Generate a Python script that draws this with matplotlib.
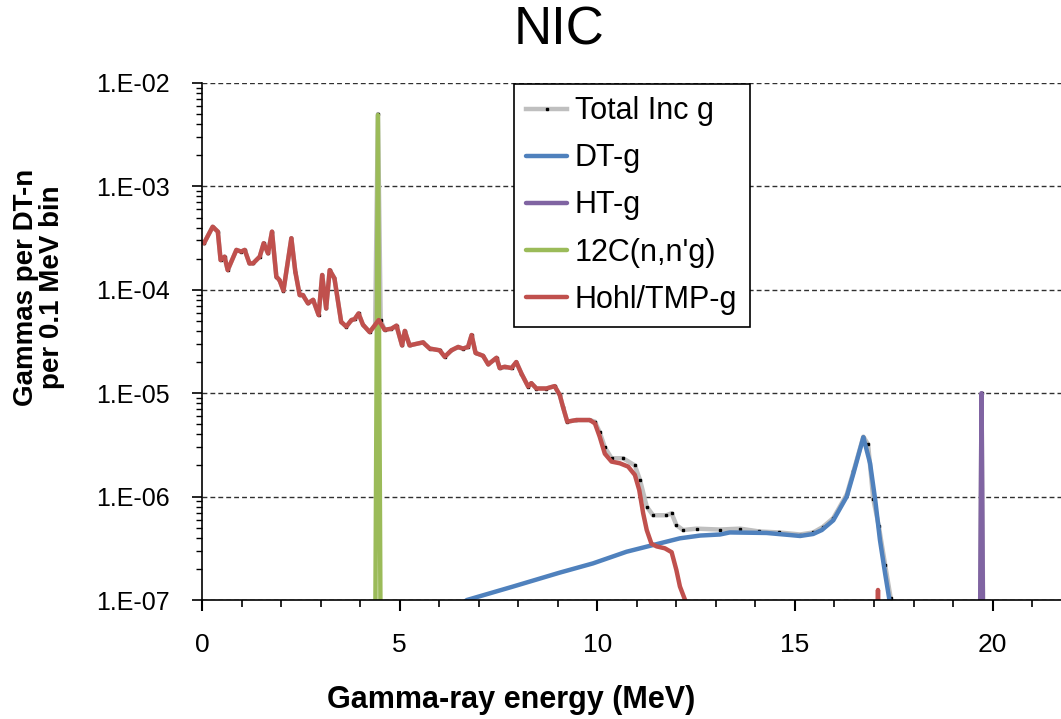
import numpy as np
import matplotlib
matplotlib.use("Agg")
from matplotlib import pyplot as plt
from matplotlib.ticker import LogLocator, MultipleLocator, FuncFormatter

plt.rcParams['font.family'] = ['Liberation Sans', 'DejaVu Sans']

# floor value = "nothing in this bin" (falls below the 1E-07 axis)
ZERO = 1e-12

# Hohl/TMP-g
hohl_e = [0.05, 0.27, 0.40, 0.47, 0.57, 0.65, 0.87, 0.99, 1.08, 1.20, 1.29, 1.46,
          1.56, 1.67, 1.77, 1.88, 1.96, 2.06, 2.26, 2.36, 2.47, 2.55, 2.68, 2.81,
          2.95, 3.04, 3.14, 3.23, 3.35, 3.52, 3.65, 3.78, 3.86, 3.96, 4.07, 4.24,
          4.47, 4.62, 4.79, 4.92, 5.06, 5.13, 5.25, 5.59, 5.76, 6.01, 6.14, 6.31,
          6.48, 6.60, 6.73, 6.82, 6.92, 7.11, 7.24, 7.45, 7.53, 7.66, 7.83, 7.95,
          8.08, 8.25, 8.33, 8.46, 8.71, 8.92, 9.05, 9.13, 9.24, 9.47, 9.81, 9.94,
          10.06, 10.19, 10.36, 10.57, 10.78, 10.95, 11.06, 11.16, 11.25, 11.37,
          11.50, 11.71, 11.88, 12.00, 12.09, 12.22, 12.30, 12.40,
          17.00, 17.10, 17.20, 21.80]
hohl_v = [2.82e-4, 4.07e-4, 3.65e-4, 1.94e-4, 2.09e-4, 1.55e-4, 2.43e-4, 2.34e-4, 2.43e-4, 1.80e-4, 1.80e-4, 2.09e-4,
          2.82e-4, 2.25e-4, 3.65e-4, 1.34e-4, 1.24e-4, 9.8e-5, 3.15e-4, 1.50e-4, 8.9e-5, 8.9e-5, 7.4e-5, 8.0e-5,
          5.7e-5, 1.39e-4, 6.6e-5, 1.55e-4, 1.29e-4, 4.9e-5, 4.4e-5, 5.1e-5, 5.2e-5, 5.9e-5, 4.6e-5, 3.9e-5,
          5.1e-5, 4.1e-5, 4.2e-5, 4.5e-5, 2.9e-5, 4.0e-5, 2.9e-5, 3.1e-5, 2.7e-5, 2.6e-5, 2.25e-5, 2.6e-5,
          2.8e-5, 2.7e-5, 2.8e-5, 3.65e-5, 2.45e-5, 2.3e-5, 1.9e-5, 2.2e-5, 1.75e-5, 1.8e-5, 1.75e-5, 2.0e-5,
          1.55e-5, 1.16e-5, 1.25e-5, 1.11e-5, 1.11e-5, 1.17e-5, 9.6e-6, 7.4e-6, 5.3e-6, 5.5e-6, 5.5e-6, 5.1e-6,
          3.8e-6, 2.6e-6, 2.18e-6, 2.1e-6, 1.95e-6, 1.62e-6, 1.16e-6, 6.9e-7, 4.75e-7, 3.5e-7,
          3.3e-7, 3.16e-7, 2.9e-7, 1.95e-7, 1.35e-7, 1.0e-7, 5e-8, ZERO,
          ZERO, 1.25e-7, ZERO, ZERO]

# DT-g
dt_e = [6.00, 6.70, 7.87, 9.05, 9.89, 10.74, 11.41, 12.09, 12.60, 13.10, 13.35, 14.28,
        14.87, 15.13, 15.46, 15.68, 15.97, 16.31, 16.48, 16.73, 16.90, 17.03, 17.15,
        17.28, 17.39, 17.50]
dt_v = [6e-8, 1.0e-7, 1.35e-7, 1.84e-7, 2.26e-7, 2.93e-7, 3.4e-7, 3.95e-7, 4.2e-7, 4.3e-7, 4.5e-7, 4.45e-7,
        4.25e-7, 4.16e-7, 4.35e-7, 4.75e-7, 5.9e-7, 1.0e-6, 1.68e-6, 3.75e-6, 2.1e-6, 9.3e-7, 3.8e-7,
        1.81e-7, 1.0e-7, 6e-8]

# HT-g
ht_e = [19.60, 19.72, 19.84]
ht_v = [ZERO, 1.0e-5, ZERO]

# 12C(n,n'g)
c12_e = [4.32, 4.45, 4.58]
c12_v = [ZERO, 4.9e-3, ZERO]

# Total Inc g
tot_e = [0.05, 0.27, 0.40, 0.47, 0.57, 0.65, 0.87, 0.99, 1.08, 1.20, 1.29, 1.46,
         1.56, 1.67, 1.77, 1.88, 1.96, 2.06, 2.26, 2.36, 2.47, 2.55, 2.68, 2.81,
         2.95, 3.04, 3.14, 3.23, 3.35, 3.52, 3.65, 3.78, 3.86, 3.96, 4.07, 4.24,
         4.38, 4.45, 4.52, 4.62, 4.79, 4.92, 5.06, 5.13, 5.25, 5.59, 5.76, 6.01, 6.14, 6.31,
         6.48, 6.60, 6.73, 6.82, 6.92, 7.11, 7.24, 7.45, 7.53, 7.66, 7.83, 7.95,
         8.08, 8.25, 8.33, 8.46, 8.71, 8.92, 9.05, 9.13, 9.24, 9.47, 9.81, 9.94,
         10.06, 10.19, 10.36, 10.65, 10.95, 11.08, 11.25, 11.41, 11.75, 11.88, 12.00, 12.17,
         12.51, 13.10, 13.61, 14.10, 14.60, 15.13, 15.46, 15.71, 15.97, 16.31, 16.48, 16.73,
         16.85, 16.98, 17.12, 17.28, 17.42, 17.50, 19.60, 19.72, 19.85, 21.80]
tot_v = [2.82e-4, 4.07e-4, 3.65e-4, 1.94e-4, 2.09e-4, 1.55e-4, 2.43e-4, 2.34e-4, 2.43e-4, 1.80e-4, 1.80e-4, 2.09e-4,
         2.82e-4, 2.25e-4, 3.65e-4, 1.34e-4, 1.24e-4, 9.8e-5, 3.15e-4, 1.50e-4, 8.9e-5, 8.9e-5, 7.4e-5, 8.0e-5,
         5.7e-5, 1.39e-4, 6.6e-5, 1.55e-4, 1.29e-4, 4.9e-5, 4.4e-5, 5.1e-5, 5.2e-5, 5.9e-5, 4.6e-5, 3.9e-5,
         4.5e-5, 5.0e-3, 5.1e-5, 4.1e-5, 4.2e-5, 4.5e-5, 2.9e-5, 4.0e-5, 2.9e-5, 3.1e-5, 2.7e-5, 2.6e-5, 2.25e-5, 2.6e-5,
         2.8e-5, 2.7e-5, 2.8e-5, 3.65e-5, 2.45e-5, 2.3e-5, 1.9e-5, 2.2e-5, 1.75e-5, 1.8e-5, 1.75e-5, 2.0e-5,
         1.55e-5, 1.16e-5, 1.25e-5, 1.11e-5, 1.11e-5, 1.17e-5, 9.6e-6, 7.4e-6, 5.3e-6, 5.5e-6, 5.5e-6, 5.3e-6,
         4.2e-6, 3.0e-6, 2.35e-6, 2.35e-6, 2.0e-6, 1.45e-6, 8.0e-7, 6.6e-7, 6.6e-7, 6.9e-7, 5.3e-7, 4.75e-7,
         4.9e-7, 4.8e-7, 4.9e-7, 4.6e-7, 4.5e-7, 4.3e-7, 4.5e-7, 5.1e-7, 6.2e-7, 1.05e-6, 1.75e-6, 3.8e-6,
         3.2e-6, 9.5e-7, 5.2e-7, 2.2e-7, 1.05e-7, 6e-8, ZERO, 1.0e-5, ZERO, ZERO]

series = [
    ("Total Inc g", tot_e, tot_v, '#BFBFBF'),
    ("DT-g", dt_e, dt_v, '#4F81BD'),
    ("HT-g", ht_e, ht_v, '#8064A2'),
    ("12C(n,n'g)", c12_e, c12_v, '#9BBB59'),
    ("Hohl/TMP-g", hohl_e, hohl_v, '#C0504D'),
]

fig = plt.figure(figsize=(10.61, 7.19), dpi=100)
ax = fig.add_axes([0.1904, 0.1655, 0.8096, 0.7191])

for name, e, v, col in series:
    if name == "Total Inc g":
        ax.plot(e, v, color=col, lw=3.2, marker='s', ms=1.9, mfc='black', mec='black',
                label=name, solid_joinstyle='round')
    else:
        ax.plot(e, v, color=col, lw=3.2, label=name, solid_joinstyle='round', solid_capstyle='round')

ax.set_yscale('log')
ax.set_ylim(1e-7, 1e-2)
ax.set_xlim(0, 21.73)

ax.yaxis.set_major_locator(LogLocator(base=10, numticks=10))
ax.yaxis.set_minor_locator(LogLocator(base=10, subs=np.arange(2, 10), numticks=10))
ax.yaxis.set_major_formatter(FuncFormatter(lambda y, p: "1.E-%02d" % round(-np.log10(y))))
ax.xaxis.set_major_locator(MultipleLocator(5))
ax.xaxis.set_minor_locator(MultipleLocator(1))

ax.grid(True, axis='y', which='major', color='#303030', ls=(0, (3.5, 2.2)), lw=1.0)
ax.set_axisbelow(True)
for s in ['top', 'right']:
    ax.spines[s].set_visible(False)
for s in ['left', 'bottom']:
    ax.spines[s].set_linewidth(1.2)
    ax.spines[s].set_color('black')

ax.tick_params(axis='y', which='major', direction='out', length=7, width=1.2, labelsize=18, pad=16)
ax.tick_params(axis='y', which='minor', direction='out', length=4, width=1.0)
ax.tick_params(axis='x', which='major', direction='out', length=8, width=1.5, labelsize=19, pad=16)
ax.tick_params(axis='x', which='minor', direction='out', length=5, width=1.2)

leg = ax.legend(loc='upper left', bbox_to_anchor=(0.363, 0.998), fontsize=22, frameon=True,
                fancybox=False, edgecolor='black', framealpha=1, handlelength=1.35,
                handletextpad=0.25, labelspacing=0.56, borderpad=0.4, borderaxespad=0,
                numpoints=1)
leg.get_frame().set_linewidth(1.2)
for line in leg.get_lines():
    line.set_linewidth(3.2)

fig.text(0.527, 0.958, "NIC", fontsize=38, ha='center', va='center')
fig.text(0.4816, 0.026, "Gamma-ray energy (MeV)", fontsize=22, fontweight='bold',
         ha='center', va='center')
fig.text(0.037, 0.60, "Gammas per DT-n\nper 0.1 MeV bin", fontsize=20, fontweight='bold',
         ha='center', va='center', rotation=90, linespacing=1.0)

fig.savefig('out.png', dpi=100)
